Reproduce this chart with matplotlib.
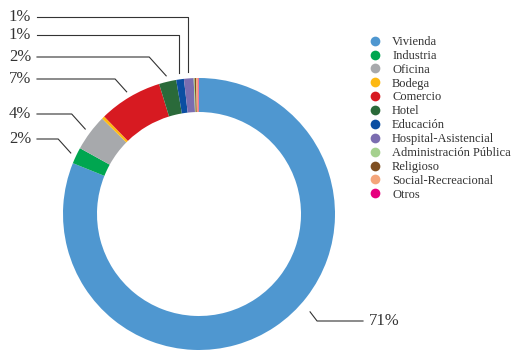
import numpy as np
import matplotlib.pyplot as plt
from matplotlib.lines import Line2D

plt.rcParams['font.family'] = ['Liberation Serif', 'DejaVu Serif']

# Data
categorias = ['Vivienda', 'Industria', 'Oficina', 'Bodega', 'Comercio', 'Hotel',
              'Educación', 'Hospital-Asistencial', 'Administración Pública',
              'Religioso', 'Social-Recreacional', 'Otros']
valores = [71, 1.7, 3.8, 0.3, 6.6, 1.8, 0.8, 1.0, 0.1, 0.15, 0.25, 0.05]
colores = ['#4f97d0', '#00a650', '#a7a9ac', '#fdb913', '#d71a21', '#2a6a3a',
           '#0b4ea2', '#7b6db0', '#a5d18e', '#7f4f21', '#f4a57a', '#e6007e']

W, H = 514, 350
fig = plt.figure(figsize=(W / 100, H / 100), dpi=100)
ax = fig.add_axes([0, 0, 1, 1])

def Y(py):
    return H - py

cx, cy, R = 199, Y(214), 136
wedges, _ = ax.pie(valores, colors=colores, startangle=90, counterclock=False,
                   radius=R, center=(cx, cy),
                   wedgeprops=dict(width=34, edgecolor='none'))
ax.set_xlim(0, W)
ax.set_ylim(0, H)
ax.set_aspect('equal')
ax.axis('off')

line_kw = dict(color='#333333', lw=0.8)
txt_kw = dict(fontsize=12, color='#333333', va='center')

def punto(ang, r):
    a = np.radians(ang)
    return cx + r * np.cos(a), cy + r * np.sin(a)

# labels on the left with elbow leaders
x_text = 31
etiquetas = [  # (index, text y in px, vertical leader?)
    (7, 17, True),
    (6, 35, True),
    (5, 57, False),
    (4, 79, False),
    (2, 114, False),
    (1, 139, False),
]
for i, ty, vertical in etiquetas:
    w = wedges[i]
    mid = (w.theta1 + w.theta2) / 2
    ax_, ay_ = punto(mid, R + 6)
    ty_d = Y(ty)
    if vertical:
        ax.plot([x_text + 6, ax_, ax_], [ty_d, ty_d, ay_], **line_kw)
    else:
        ex = ax_ - 0.9 * (ty_d - ay_)
        ax.plot([x_text + 6, ex, ax_], [ty_d, ty_d, ay_], **line_kw)
    ax.text(x_text, ty_d, f'{round(valores[i])}%', ha='right', **txt_kw)

# Vivienda label at lower right
w = wedges[0]
ang = w.theta2 - 0.45 * (w.theta2 - w.theta1)
px, py = punto(ang, R + 12)
ty_d = Y(321)
ax.plot([px, px + 7, 363], [py, ty_d, ty_d], **line_kw)
ax.text(369, ty_d, f'{valores[0]}%', ha='left', **txt_kw)

# Legend
handles = [Line2D([], [], marker='o', ls='none', markersize=7,
                  markerfacecolor=c, markeredgecolor='none') for c in colores]
leg = ax.legend(handles, categorias, loc='upper left', bbox_to_anchor=(369 / W, 1 - 36 / H),
                frameon=False, fontsize=9, labelspacing=0.15, handletextpad=0.85,
                handlelength=1.0, borderpad=0, borderaxespad=0)
for t in leg.get_texts():
    t.set_color('#333333')

plt.savefig('out.png', dpi=100)
